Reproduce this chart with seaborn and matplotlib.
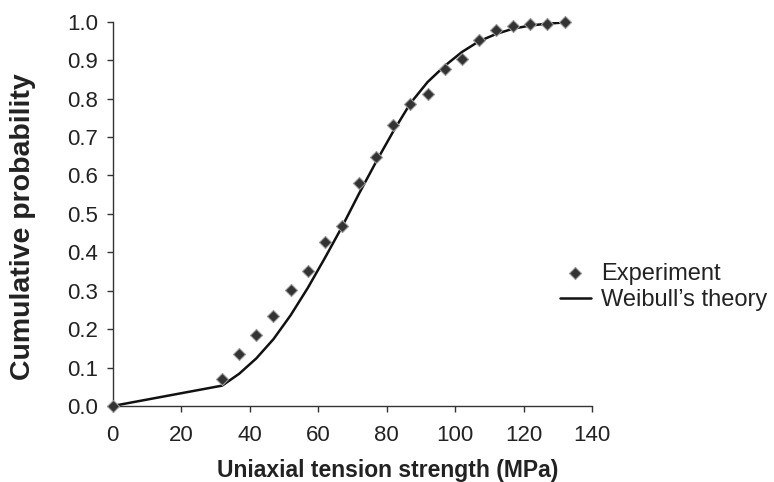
import matplotlib
matplotlib.use("Agg")
import matplotlib.pyplot as plt
import seaborn as sns
import pandas as pd

# Data
strength_exp = [0, 32, 37, 42, 47, 52, 57, 62, 67, 72, 77, 82, 87, 92, 97,
                102, 107, 112, 117, 122, 127, 132]
prob_exp = [0.0, 0.069, 0.135, 0.185, 0.234, 0.303, 0.351, 0.427, 0.469,
            0.579, 0.648, 0.730, 0.787, 0.812, 0.876, 0.904, 0.952, 0.978,
            0.988, 0.995, 0.993, 1.0]

strength_theory = [0, 32, 37, 42, 47, 52, 57, 62, 67, 72, 77, 82, 87, 92, 97,
                   102, 107, 112, 117, 122, 127, 132]
prob_theory = [0.0, 0.053, 0.084, 0.124, 0.174, 0.236, 0.307, 0.385, 0.466,
               0.553, 0.636, 0.715, 0.788, 0.843, 0.885, 0.921, 0.949, 0.968,
               0.982, 0.990, 0.995, 0.998]

x_ticks = [0, 20, 40, 60, 80, 100, 120, 140]
y_ticks = [0.0, 0.1, 0.2, 0.3, 0.4, 0.5, 0.6, 0.7, 0.8, 0.9, 1.0]

sns.set_style("ticks")
plt.rcParams['font.family'] = ['Liberation Sans', 'DejaVu Sans']

df_exp = pd.DataFrame({"x": strength_exp, "y": prob_exp})
df_th = pd.DataFrame({"x": strength_theory, "y": prob_theory})

W, H = 774, 482
fig = plt.figure(figsize=(W / 100, H / 100), dpi=100)
x0, x1, ytop, ybot = 112.5, 592, 21.7, 406
ax = fig.add_axes([x0 / W, 1 - ybot / H, (x1 - x0) / W, (ybot - ytop) / H])

sns.lineplot(data=df_th, x="x", y="y", ax=ax, color="#111111", linewidth=1.8,
             label="Weibull\u2019s theory", zorder=2)
sns.scatterplot(data=df_exp, x="x", y="y", ax=ax, marker="D", s=38,
                color="#333333", edgecolor="#9a9a9a", linewidth=0.8,
                label="Experiment", zorder=3, clip_on=False)

ax.set_xlim(0, 140)
ax.set_ylim(0, 1.0)
ax.set_xticks(x_ticks)
ax.set_yticks(y_ticks)
ax.set_xticklabels([str(t) for t in x_ticks])
ax.set_yticklabels([f"{t:.1f}" for t in y_ticks])
ax.tick_params(axis="both", labelsize=16, length=4, width=1, color="#333333",
               labelcolor="#222222", direction="out")
ax.tick_params(axis="x", pad=9.5)
ax.tick_params(axis="y", pad=6.5)
for side in ["top", "right"]:
    ax.spines[side].set_visible(False)
for side in ["left", "bottom"]:
    ax.spines[side].set_color("#333333")
    ax.spines[side].set_linewidth(1)

ax.set_xlabel("Uniaxial tension strength (MPa)", fontsize=16.5, fontweight="bold",
              color="#222222")
ax.set_ylabel("Cumulative probability", fontsize=20.5, fontweight="bold",
              color="#222222")
ax.xaxis.set_label_coords((387.5 - x0) / (x1 - x0), -(459 - ybot) / (ybot - ytop))
ax.yaxis.set_label_coords(-(x0 - 36) / (x1 - x0), 1 - (227 - ytop) / (ybot - ytop))

handles, labels = ax.get_legend_handles_labels()
order = [labels.index("Experiment"), labels.index("Weibull\u2019s theory")]
leg = ax.legend([handles[i] for i in order], [labels[i] for i in order],
                loc="center left", bbox_to_anchor=(560 / W, 1 - 287 / H),
                bbox_transform=fig.transFigure, frameon=False, fontsize=17,
                handlelength=1.3, handletextpad=0.45, borderpad=0,
                borderaxespad=0, labelspacing=0.2)
for t in leg.get_texts():
    t.set_color("#222222")

fig.savefig("out.png", dpi=100)
